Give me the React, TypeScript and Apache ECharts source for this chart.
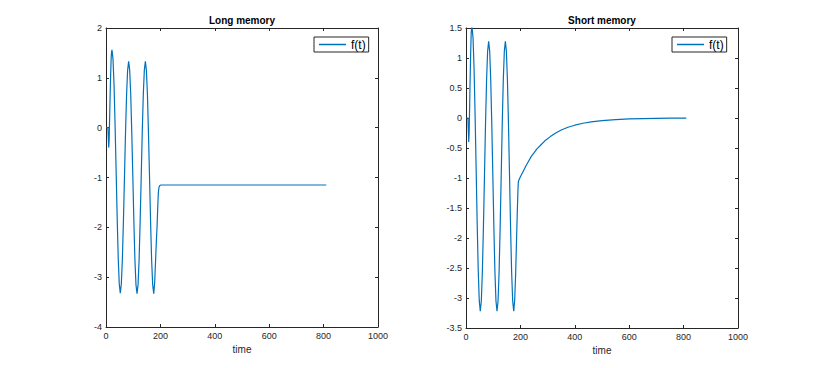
import React, { useEffect, useRef } from "react";
import * as echarts from "echarts";

// Long memory signal: time / value
const longTime = [
  0, 4, 7, 8.5, 10, 11.5, 13, 15, 17, 19, 20.5, 22,
  25.8, 29.6, 33.4, 37.3, 41.1, 44.9, 48.7, 52.5,
  56.3, 60.2, 64.0, 67.9, 71.7, 75.6, 79.4, 83.3,
  87.1, 91.0, 94.8, 98.7, 102.5, 106.3, 110.2, 114.0,
  117.8, 121.7, 125.5, 129.4, 133.2, 137.0, 140.9, 144.7,
  148.5, 152.4, 156.2, 160.1, 163.9, 167.7, 171.6, 175.5,
  179, 182, 185, 188, 190.5, 192.5, 195, 198, 202, 300, 400, 500, 600, 700, 810,
];
const longValue = [
  0, 0, 0, -0.2, -0.4, -0.25, 0.1, 0.6, 1.05, 1.4, 1.52, 1.56,
  1.37, 0.85, 0.05, -0.88, -1.81, -2.61, -3.13, -3.32,
  -3.14, -2.64, -1.88, -1.0, -0.11, 0.65, 1.15, 1.33,
  1.15, 0.65, -0.11, -1.0, -1.89, -2.65, -3.15, -3.33,
  -3.15, -2.65, -1.89, -1.0, -0.11, 0.65, 1.15, 1.33,
  1.15, 0.65, -0.11, -1.0, -1.89, -2.65, -3.15, -3.33,
  -3.1, -2.7, -2.3, -1.95, -1.55, -1.3, -1.19, -1.16, -1.15, -1.15, -1.15, -1.15, -1.15, -1.15, -1.15,
];

// Short memory signal: time / value
const shortTime = [
  0, 4, 7, 8.5, 10, 11.5, 13, 15, 17, 19, 20.5, 22,
  25.8, 29.6, 33.4, 37.3, 41.1, 44.9, 48.7, 52.5,
  56.3, 60.2, 64.0, 67.9, 71.7, 75.6, 79.4, 83.3,
  87.1, 91.0, 94.8, 98.7, 102.5, 106.3, 110.2, 114.0,
  117.8, 121.7, 125.5, 129.4, 133.2, 137.0, 140.9, 144.7,
  148.5, 152.4, 156.2, 160.1, 163.9, 167.7, 171.6, 175.5,
  179, 182.5, 186, 189, 191, 192.5, 195, 200, 210, 220, 230, 240, 250, 260,
  275, 290, 310, 330, 350, 375, 400, 430, 460, 500, 550, 600, 650, 700, 750, 810,
];
const shortValue = [
  0, 0, 0, -0.2, -0.4, -0.25, 0.1, 0.6, 1.05, 1.4, 1.5, 1.52,
  1.34, 0.83, 0.06, -0.85, -1.76, -2.53, -3.04, -3.22,
  -3.05, -2.56, -1.83, -0.97, -0.11, 0.62, 1.11, 1.28,
  1.11, 0.62, -0.11, -0.97, -1.83, -2.56, -3.05, -3.22,
  -3.05, -2.56, -1.83, -0.97, -0.11, 0.62, 1.11, 1.28,
  1.11, 0.62, -0.11, -0.97, -1.83, -2.56, -3.05, -3.22,
  -3.03, -2.6, -2.0, -1.5, -1.2, -1.06, -1.03, -0.98, -0.89, -0.8, -0.72, -0.64, -0.58, -0.52,
  -0.45, -0.38, -0.31, -0.25, -0.2, -0.155, -0.12, -0.087, -0.064, -0.043, -0.026, -0.016, -0.009, -0.005, -0.003, -0.002,
];

const titles = ["Long memory", "Short memory"];
const xLabel = "time";
const legendName = "f(t)";

const FONT = "Liberation Sans";
const AXIS_COLOR = "#262626";
const LINE_COLOR = "#0072BD";

export default function App() {
  const ref = useRef<HTMLDivElement>(null);

  useEffect(() => {
    if (!ref.current) return;
    const chart = echarts.init(ref.current, undefined, { renderer: "svg" });

    const grids = [
      { left: 106, top: 28, width: 272, height: 299 },
      { left: 466, top: 28, width: 272, height: 300 },
    ];
    const yRanges = [
      { min: -4, max: 2, interval: 1 },
      { min: -3.5, max: 1.5, interval: 0.5 },
    ];

    const tickStyle = { inside: true, length: 3, lineStyle: { color: AXIS_COLOR, width: 1 } };
    const lineStyle = { show: true, onZero: false, lineStyle: { color: AXIS_COLOR, width: 1 } };
    const labelStyle = {
      color: AXIS_COLOR,
      fontFamily: FONT,
      fontSize: 9,
      formatter: (v: number) => String(v),
    };

    const xAxes: any[] = [];
    const yAxes: any[] = [];
    [0, 1].forEach((i) => {
      xAxes.push({
        type: "value",
        gridIndex: i,
        min: 0,
        max: 1000,
        interval: 200,
        position: "bottom",
        name: xLabel,
        nameLocation: "middle",
        nameGap: 16,
        nameTextStyle: { color: AXIS_COLOR, fontFamily: FONT, fontSize: 10 },
        axisLine: lineStyle,
        axisTick: tickStyle,
        axisLabel: { ...labelStyle, margin: 4 },
        splitLine: { show: false },
      });
      xAxes.push({
        type: "value",
        gridIndex: i,
        min: 0,
        max: 1000,
        interval: 200,
        position: "top",
        axisLine: lineStyle,
        axisTick: tickStyle,
        axisLabel: { show: false },
        splitLine: { show: false },
      });
      yAxes.push({
        type: "value",
        gridIndex: i,
        ...yRanges[i],
        position: "left",
        axisLine: lineStyle,
        axisTick: tickStyle,
        axisLabel: { ...labelStyle, margin: 4 },
        splitLine: { show: false },
      });
      yAxes.push({
        type: "value",
        gridIndex: i,
        ...yRanges[i],
        position: "right",
        axisLine: lineStyle,
        axisTick: tickStyle,
        axisLabel: { show: false },
        splitLine: { show: false },
      });
    });

    const series = [
      {
        type: "line",
        name: legendName,
        xAxisIndex: 0,
        yAxisIndex: 0,
        data: longTime.map((t, k) => [t, longValue[k]]),
        symbol: "none",
        lineStyle: { color: LINE_COLOR, width: 1.2 },
        itemStyle: { color: LINE_COLOR },
        clip: true,
      },
      {
        type: "line",
        name: legendName,
        xAxisIndex: 2,
        yAxisIndex: 2,
        data: shortTime.map((t, k) => [t, shortValue[k]]),
        symbol: "none",
        lineStyle: { color: LINE_COLOR, width: 1.2 },
        itemStyle: { color: LINE_COLOR },
        clip: true,
      },
    ];

    const legendCommon = {
      data: [{ name: legendName, icon: "rect" }],
      orient: "horizontal",
      backgroundColor: "#ffffff",
      borderColor: AXIS_COLOR,
      borderWidth: 1,
      borderRadius: 0,
      padding: [1, 3, 1, 5],
      itemWidth: 27,
      itemHeight: 1.5,
      itemGap: 4,
      selectedMode: false,
      itemStyle: { color: LINE_COLOR },
      textStyle: { color: "#000", fontFamily: FONT, fontSize: 12, lineHeight: 13 },
    };

    chart.setOption({
      animation: false,
      backgroundColor: "#ffffff",
      title: [
        {
          text: titles[0],
          left: 242,
          top: 15,
          textAlign: "center",
          textStyle: { fontFamily: FONT, fontSize: 10, fontWeight: "bold", color: "#000" },
          padding: 0,
        },
        {
          text: titles[1],
          left: 602,
          top: 15,
          textAlign: "center",
          textStyle: { fontFamily: FONT, fontSize: 10, fontWeight: "bold", color: "#000" },
          padding: 0,
        },
      ],
      legend: [
        { ...legendCommon, left: 314, top: 37 },
        { ...legendCommon, left: 672, top: 37 },
      ],
      grid: grids,
      xAxis: xAxes,
      yAxis: yAxes,
      series,
    });

    return () => chart.dispose();
  }, []);

  return (
    <div
      ref={ref}
      style={{ position: "fixed", left: 0, top: 0, width: 816, height: 368, background: "#fff" }}
    />
  );
}
